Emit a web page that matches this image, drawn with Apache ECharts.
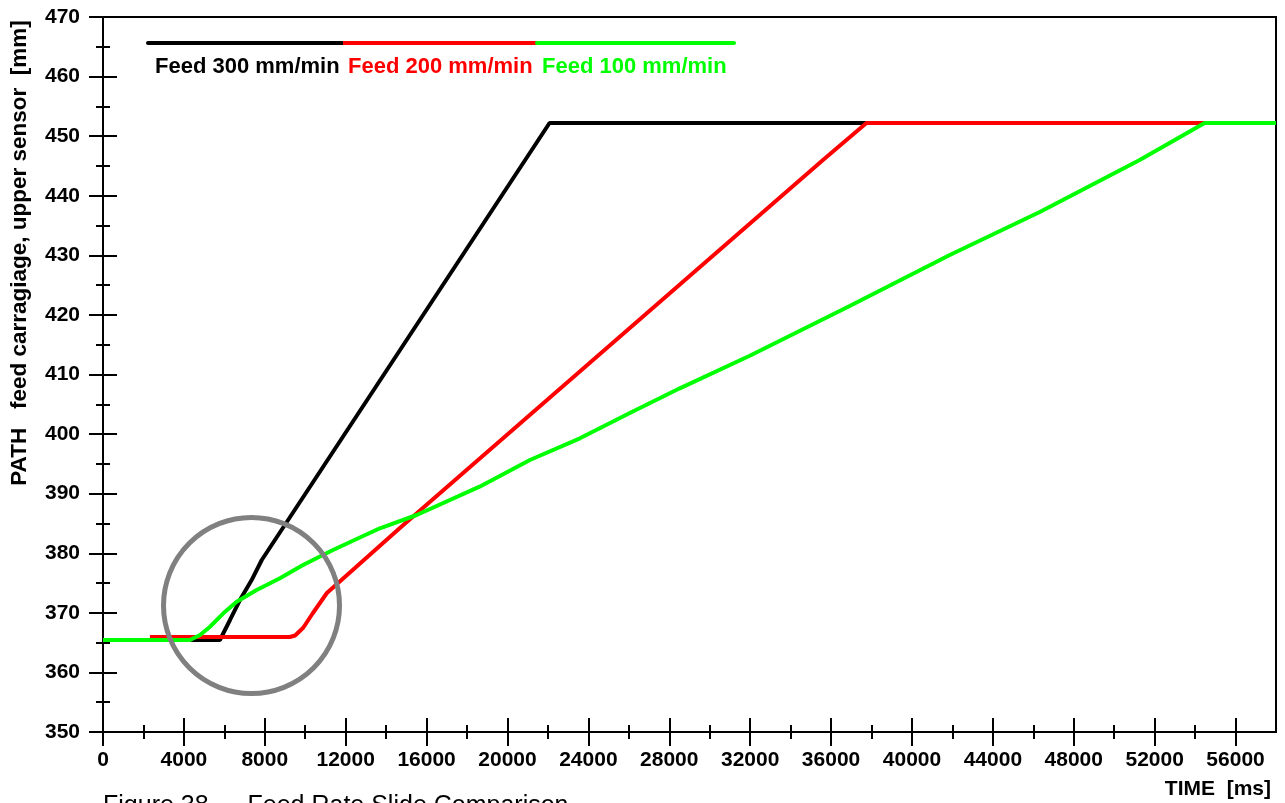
<!DOCTYPE html>
<html>
<head>
<meta charset="utf-8">
<script src="https://cdn.jsdelivr.net/npm/echarts@6/dist/echarts.min.js"></script>
<style>
html,body{margin:0;padding:0;background:#fff;}
#c{width:1285px;height:803px;}
</style>
</head>
<body>
<div id="c"></div>
<script>
// ---- data (time in ms, path in mm) ----
const time300 = [0, 5780, 6280, 6770, 7350, 7850, 22080, 58000];
const path300 = [365.44, 365.44, 368.8, 372.15, 375.5, 378.87, 452.21, 452.21];

const time200 = [2320, 9240, 9500, 9900, 10380, 11070, 14680, 35600, 37750, 58000];
const path200 = [365.94, 365.94, 366.2, 367.5, 369.97, 373.33, 384.24, 446.0, 452.21, 452.21];

const time100 = [0, 4300, 4800, 5290, 5950, 6610, 7600, 8750, 9890, 11370, 13690, 15510, 18620, 21110, 23580, 26050, 28520, 31980, 36920, 41870, 46320, 51260, 54470, 58000];
const path100 = [365.44, 365.44, 366.28, 367.67, 369.92, 371.87, 373.83, 375.8, 378.03, 380.55, 384.19, 386.42, 391.17, 395.65, 399.29, 403.54, 407.68, 413.15, 421.5, 430.06, 437.27, 446.0, 452.21, 452.21];

const seriesNames = ['Feed 300 mm/min', 'Feed 200 mm/min', 'Feed 100 mm/min'];
const xMajorTicks = [0, 4000, 8000, 12000, 16000, 20000, 24000, 28000, 32000, 36000, 40000, 44000, 48000, 52000, 56000];
const xMinorTicks = [2000, 6000, 10000, 14000, 18000, 22000, 26000, 30000, 34000, 38000, 42000, 46000, 50000, 54000];
const xMin = 0, xMax = 58000;
const yMin = 350, yMax = 470, yMajor = 10, yMinor = 5;

const colors = ['#000000', '#ff0000', '#00ff00'];
const FONT = 'Liberation Sans, Arial, Helvetica, sans-serif';

function pairs(t, p) { return t.map((v, i) => [v, p[i]]); }

const chart = echarts.init(document.getElementById('c'), null, {renderer: 'canvas'});

const tickStyle = {color: '#000', width: 2};
function xTickAxis(values, off, len) {
  return {
    type: 'value', min: xMin, max: xMax, position: 'bottom', offset: off,
    axisLine: {show: false, onZero: false}, axisLabel: {show: false}, splitLine: {show: false},
    axisTick: {show: true, inside: true, length: len, customValues: values, lineStyle: tickStyle}
  };
}
function yTickAxis(interval, off, len) {
  return {
    type: 'value', min: yMin, max: yMax, interval: interval, position: 'left', offset: off,
    axisLine: {show: false, onZero: false}, axisLabel: {show: false}, splitLine: {show: false},
    axisTick: {show: true, inside: true, length: len, lineStyle: tickStyle}
  };
}

const option = {
  animation: false,
  backgroundColor: '#fff',
  grid: {left: 103, top: 17, right: 9, bottom: 71, show: true, borderColor: '#000', borderWidth: 2, backgroundColor: 'transparent'},
  xAxis: [
    {
      type: 'value', min: xMin, max: xMax, position: 'bottom',
      axisLine: {show: true, onZero: false, lineStyle: {color: '#000', width: 2}},
      axisTick: {show: false},
      splitLine: {show: false},
      axisLabel: {customValues: xMajorTicks, formatter: v => String(v), color: '#000', fontWeight: 'bold', fontSize: 21, fontFamily: FONT, margin: 18}
    },
    xTickAxis(xMajorTicks, 14, 28),
    xTickAxis(xMinorTicks, 7, 14)
  ],
  yAxis: [
    {
      type: 'value', min: yMin, max: yMax, interval: yMajor, position: 'left',
      axisLine: {show: true, onZero: false, lineStyle: {color: '#000', width: 2}},
      axisTick: {show: false},
      splitLine: {show: false},
      axisLabel: {formatter: v => String(v), color: '#000', fontWeight: 'bold', fontSize: 21, fontFamily: FONT, margin: 23}
    },
    yTickAxis(yMajor, 14, 28),
    yTickAxis(yMinor, 7, 14)
  ],
  series: [
    {name: seriesNames[0], type: 'line', data: pairs(time300, path300), showSymbol: false, symbol: 'none', lineStyle: {color: colors[0], width: 4}, itemStyle: {color: colors[0]}, z: 3},
    {name: seriesNames[1], type: 'line', data: pairs(time200, path200), showSymbol: false, symbol: 'none', lineStyle: {color: colors[1], width: 4}, itemStyle: {color: colors[1]}, z: 4},
    {name: seriesNames[2], type: 'line', data: pairs(time100, path100), showSymbol: false, symbol: 'none', lineStyle: {color: colors[2], width: 4}, itemStyle: {color: colors[2]}, z: 5}
  ],
  graphic: [
    // legend
    {type: 'line', shape: {x1: 148, y1: 43, x2: 343, y2: 43}, style: {stroke: colors[0], lineWidth: 4, lineCap: 'round'}, z: 10},
    {type: 'line', shape: {x1: 343, y1: 43, x2: 537, y2: 43}, style: {stroke: colors[1], lineWidth: 4}, z: 10},
    {type: 'line', shape: {x1: 537, y1: 43, x2: 734, y2: 43}, style: {stroke: colors[2], lineWidth: 4, lineCap: 'round'}, z: 10},
    {type: 'text', x: 155, y: 67, style: {text: seriesNames[0], fill: colors[0], font: 'bold 22px ' + FONT, textVerticalAlign: 'middle'}, z: 10},
    {type: 'text', x: 348, y: 67, style: {text: seriesNames[1], fill: colors[1], font: 'bold 22px ' + FONT, textVerticalAlign: 'middle'}, z: 10},
    {type: 'text', x: 542, y: 67, style: {text: seriesNames[2], fill: colors[2], font: 'bold 22px ' + FONT, textVerticalAlign: 'middle'}, z: 10},
    // annotation circle
    {type: 'circle', shape: {cx: 251.5, cy: 605.5, r: 88}, style: {fill: 'none', stroke: '#808080', lineWidth: 5}, z: 20},
    // axis names
    {type: 'text', x: 20, y: 253, rotation: Math.PI / 2, style: {text: 'PATH   feed carragiage, upper sensor  [mm]', fill: '#000', font: 'bold 22.5px ' + FONT, textAlign: 'center', textVerticalAlign: 'middle'}, z: 10},
    {type: 'text', x: 1271, y: 789, style: {text: 'TIME  [ms]', fill: '#000', font: 'bold 21px ' + FONT, textAlign: 'right', textVerticalAlign: 'middle'}, z: 10},
    // caption (cut by page bottom)
    {type: 'text', x: 103, y: 794, style: {text: 'Figure 38 \u2014 Feed Rate Slide Comparison', fill: '#000', font: '25px ' + FONT, textVerticalAlign: 'top'}, z: 10}
  ]
};
chart.setOption(option);
</script>
</body>
</html>
